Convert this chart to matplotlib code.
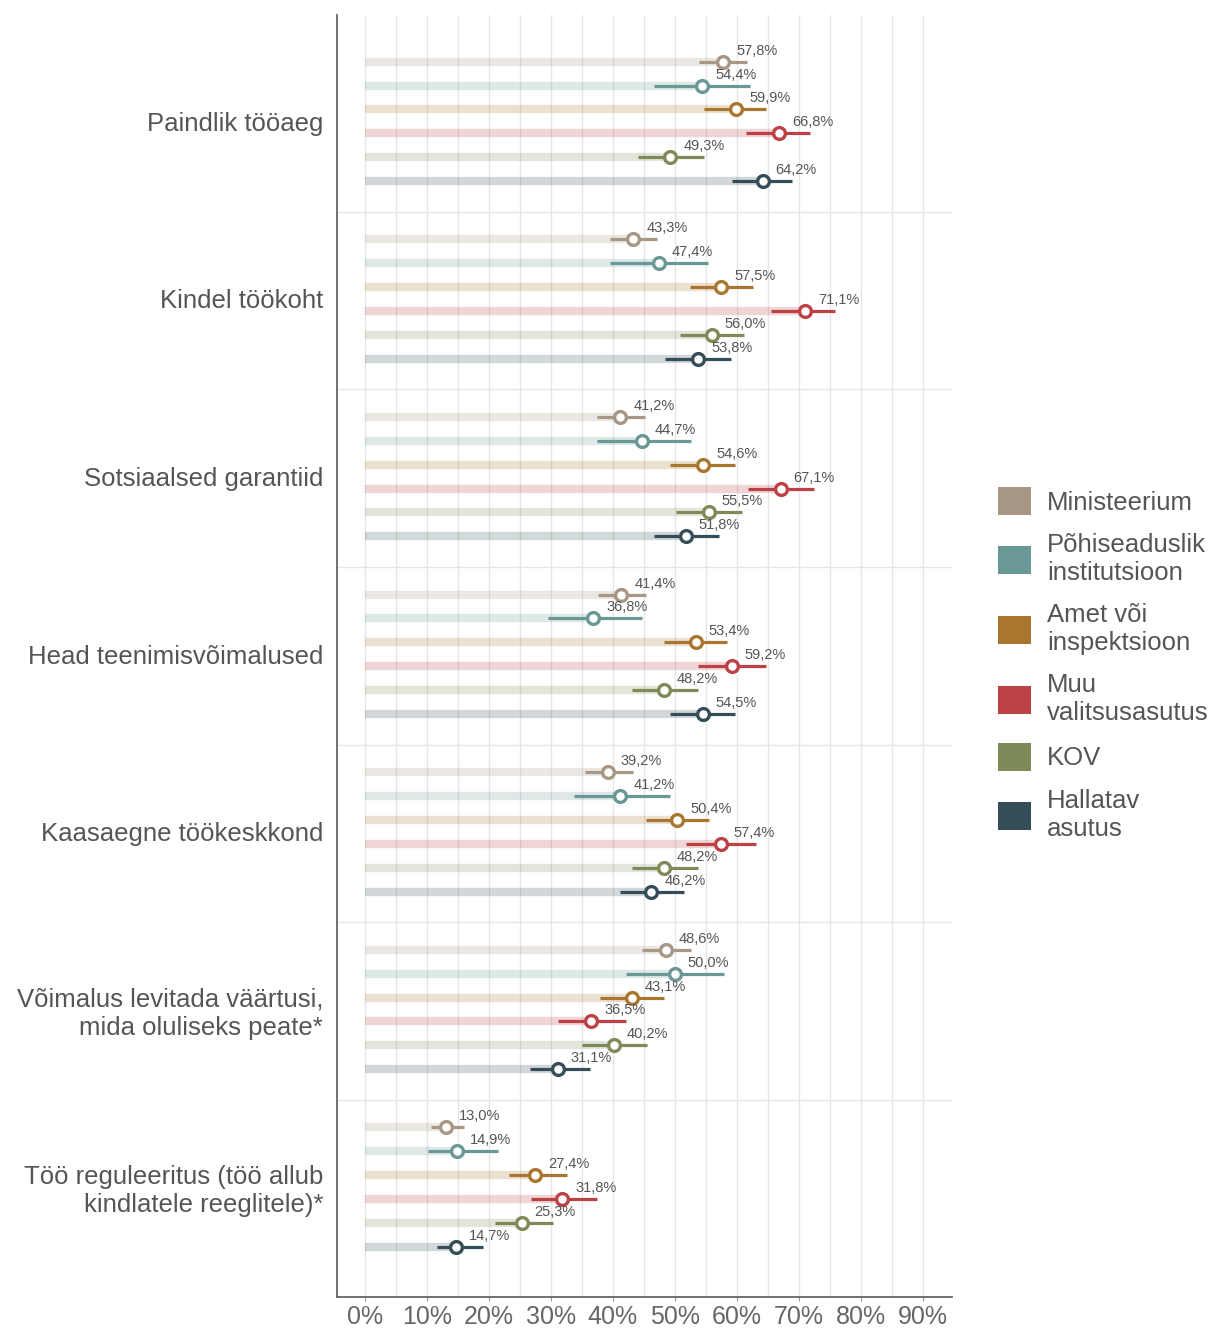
import matplotlib
matplotlib.use("Agg")
import matplotlib.pyplot as plt
from matplotlib.patches import Patch
import numpy as np

# andmed
kategooriad = ["Paindlik tööaeg", "Kindel töökoht", "Sotsiaalsed garantiid",
               "Head teenimisvõimalused", "Kaasaegne töökeskkond",
               "Võimalus levitada väärtusi,\nmida oluliseks peate*",
               "Töö reguleeritus (töö allub\nkindlatele reeglitele)*"]
asutused = ["Ministeerium", "Põhiseaduslik\ninstitutsioon", "Amet või\ninspektsioon",
            "Muu\nvalitsusasutus", "KOV", "Hallatav\nasutus"]
varvid = ["#A89784", "#6A9896", "#A9762F", "#BC4145", "#7E8A57", "#354C59"]

# väärtused (%), iga rida = kategooria, veerg = asutus
vaartused = [
    [57.8, 54.4, 59.9, 66.8, 49.3, 64.2],
    [43.3, 47.4, 57.5, 71.1, 56.0, 53.8],
    [41.2, 44.7, 54.6, 67.1, 55.5, 51.8],
    [41.4, 36.8, 53.4, 59.2, 48.2, 54.5],
    [39.2, 41.2, 50.4, 57.4, 48.2, 46.2],
    [48.6, 50.0, 43.1, 36.5, 40.2, 31.1],
    [13.0, 14.9, 27.4, 31.8, 25.3, 14.7],
]
# usaldusvahemike alumised ja ülemised piirid
alumine = [
    [53.9, 46.6, 54.7, 61.5, 44.0, 59.2],
    [39.5, 39.5, 52.4, 65.5, 50.8, 48.5],
    [37.4, 37.4, 49.2, 61.8, 50.2, 46.6],
    [37.6, 29.5, 48.2, 53.7, 43.1, 49.2],
    [35.5, 33.7, 45.3, 51.8, 43.1, 41.1],
    [44.7, 42.1, 37.9, 31.1, 35.0, 26.6],
    [10.6, 10.2, 23.2, 26.8, 21.0, 11.6],
]
ulemine = [
    [61.6, 62.1, 64.8, 71.9, 54.7, 69.0],
    [47.1, 55.3, 62.7, 75.8, 61.1, 59.0],
    [45.2, 52.7, 59.8, 72.4, 60.8, 57.1],
    [45.3, 44.7, 58.5, 64.7, 53.7, 59.8],
    [43.2, 49.2, 55.6, 63.1, 53.7, 51.5],
    [52.7, 57.9, 48.2, 42.1, 45.6, 36.3],
    [16.0, 21.5, 32.6, 37.4, 30.3, 19.0],
]

plt.rcParams['font.family'] = ['Liberation Sans', 'DejaVu Sans']

fig = plt.figure(figsize=(12.17, 13.28), dpi=100)
ax = fig.add_axes([0.277, 0.0233, 0.505, 0.9657])

for g in range(len(kategooriad)):
    for k in range(len(asutused)):
        y = g + 0.155 + k * 0.1345
        v = vaartused[g][k]
        c = varvid[k]
        # hele taustariba
        ax.plot([0, v], [y, y], color=c, alpha=0.22, lw=6, solid_capstyle='butt', zorder=2)
        # usaldusvahemik
        ax.plot([alumine[g][k], ulemine[g][k]], [y, y], color=c, lw=2.3,
                solid_capstyle='butt', zorder=3)
        ax.plot(v, y, 'o', ms=8.5, mfc='white', mec=c, mew=2.4, zorder=4)
        silt = f"{v:.1f}%".replace('.', ',')
        ax.text(v + 2.1, y - 0.062, silt, fontsize=10.5, color='#555555',
                family=['Liberation Sans Narrow', 'Liberation Sans'],
                ha='left', va='center', zorder=5)

# grupi eraldusjooned
for g in range(1, len(kategooriad)):
    ax.axhline(g, color='#e6e6e6', lw=1, zorder=1)

ax.set_xlim(-4.5, 94.7)
ax.set_ylim(len(kategooriad) + 0.11, -0.11)
ax.set_xticks(np.arange(0, 91, 10))
ax.set_xticklabels([f"{t}%" for t in range(0, 91, 10)], fontsize=18, color='#666666')
ax.set_xticks(np.arange(5, 91, 10), minor=True)
ax.tick_params(axis='x', which='major', length=3, color='#999999', pad=3)
ax.tick_params(axis='x', which='minor', length=0)
ax.grid(axis='x', which='both', color='#e6e6e6', lw=1, zorder=0)
ax.set_axisbelow(True)

ax.set_yticks([g + 0.49 for g in range(len(kategooriad))])
ax.set_yticklabels(kategooriad, fontsize=18.5, color='#555555')
ax.tick_params(axis='y', length=0, pad=10)

for s in ['top', 'right']:
    ax.spines[s].set_visible(False)
ax.spines['left'].set_color('#666666')
ax.spines['bottom'].set_color('#666666')
ax.spines['left'].set_linewidth(1.3)
ax.spines['bottom'].set_linewidth(1.3)

kasitlejad = [Patch(facecolor=c, edgecolor='none') for c in varvid]
fig.legend(kasitlejad, asutused, loc='center left', bbox_to_anchor=(0.82, 0.50),
           frameon=False, fontsize=18.5, handlelength=1.3, handleheight=1.3,
           labelspacing=0.7, handletextpad=0.6, borderpad=0, borderaxespad=0,
           labelcolor='#555555')

plt.savefig("out.png", dpi=100)
